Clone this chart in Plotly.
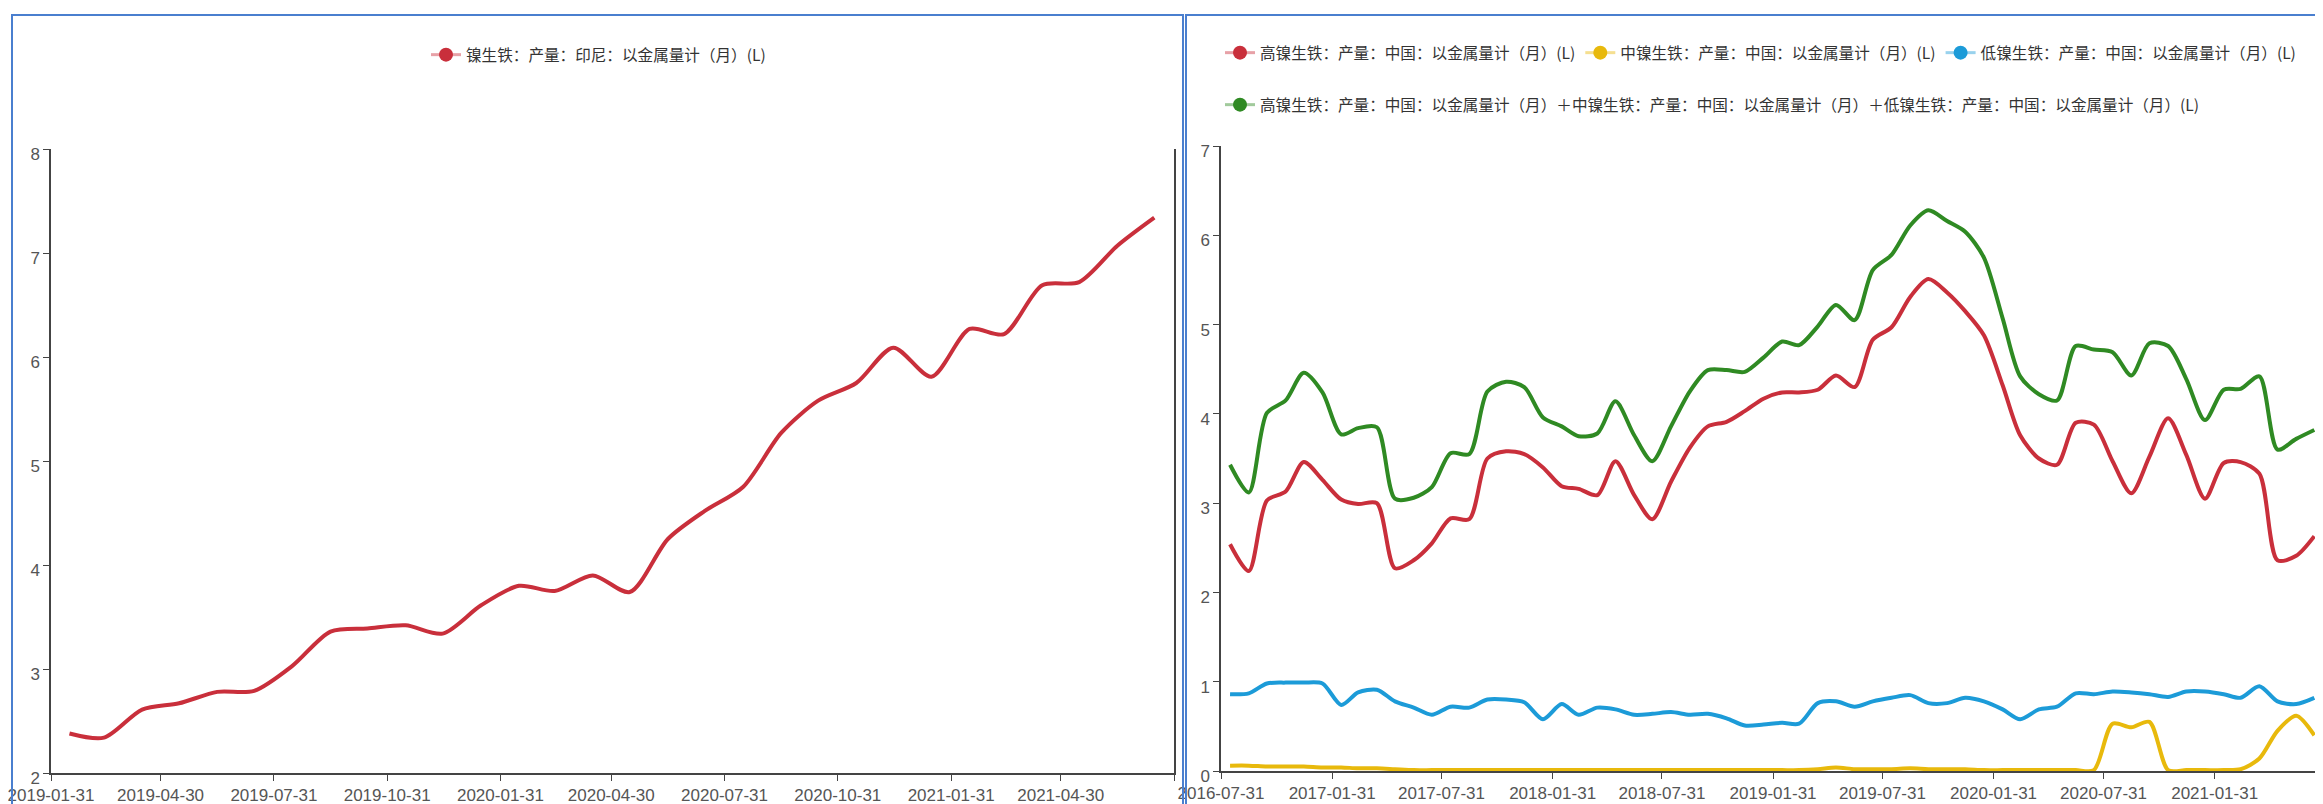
import pandas as pd
import plotly.graph_objects as go

# ---------------- data ----------------
# Left chart: Indonesia NPI output (metal content), monthly, Feb 2019 .. Jul 2021
indo_months = pd.date_range("2019-02-01", periods=30, freq="MS") + pd.Timedelta(days=14)
indo_npi = [2.38, 2.34, 2.61, 2.67, 2.78, 2.79, 3.03, 3.36, 3.39, 3.42,
            3.34, 3.61, 3.80, 3.75, 3.90, 3.74, 4.25, 4.52, 4.75, 5.27,
            5.58, 5.75, 6.09, 5.81, 6.27, 6.22, 6.69, 6.72, 7.07, 7.34]
left_tickvals = ["2019-01-31", "2019-04-30", "2019-07-31", "2019-10-31", "2020-01-31",
                 "2020-04-30", "2020-07-31", "2020-10-31", "2021-01-31", "2021-04-30", "2021-07-31"]
left_ticktext = ["2019-01-31", "2019-04-30", "2019-07-31", "2019-10-31", "2020-01-31",
                 "2020-04-30", "2020-07-31", "2020-10-31", "2021-01-31", "2021-04-30", ""]

# Right chart: China NPI output by grade, monthly, Aug 2016 .. Jul 2021
cn_months = pd.date_range("2016-08-01", periods=60, freq="MS") + pd.Timedelta(days=14)
high_npi = [2.54, 2.24, 3.03, 3.13, 3.46, 3.26, 3.04, 2.99, 3.00, 2.27,
            2.36, 2.55, 2.83, 2.82, 3.50, 3.58, 3.55, 3.40, 3.19, 3.16,
            3.09, 3.47, 3.09, 2.82, 3.24, 3.62, 3.86, 3.91, 4.03, 4.17,
            4.24, 4.24, 4.27, 4.43, 4.30, 4.83, 4.97, 5.31, 5.51, 5.36,
            5.15, 4.88, 4.32, 3.76, 3.50, 3.43, 3.90, 3.88, 3.47, 3.11,
            3.52, 3.95, 3.54, 3.05, 3.45, 3.46, 3.33, 2.36, 2.41, 2.63]
mid_npi = [0.06, 0.06, 0.05, 0.05, 0.05, 0.04, 0.04, 0.03, 0.03, 0.02,
           0.01, 0.01, 0.01, 0.01, 0.01, 0.01, 0.01, 0.01, 0.01, 0.01,
           0.01, 0.01, 0.01, 0.01, 0.01, 0.01, 0.01, 0.01, 0.01, 0.01,
           0.01, 0.01, 0.02, 0.04, 0.02, 0.02, 0.02, 0.03, 0.02, 0.02,
           0.02, 0.01, 0.01, 0.01, 0.01, 0.01, 0.01, 0.01, 0.53, 0.49,
           0.55, 0.01, 0.01, 0.01, 0.01, 0.02, 0.14, 0.45, 0.62, 0.40]
low_npi = [0.86, 0.87, 0.98, 0.99, 0.99, 0.98, 0.74, 0.88, 0.91, 0.78,
           0.71, 0.63, 0.72, 0.71, 0.80, 0.80, 0.77, 0.58, 0.75, 0.63,
           0.71, 0.69, 0.63, 0.64, 0.66, 0.63, 0.64, 0.59, 0.51, 0.52,
           0.54, 0.53, 0.76, 0.78, 0.72, 0.78, 0.82, 0.85, 0.76, 0.76,
           0.82, 0.78, 0.69, 0.58, 0.69, 0.72, 0.87, 0.86, 0.89, 0.88,
           0.86, 0.83, 0.89, 0.89, 0.86, 0.82, 0.95, 0.78, 0.75, 0.82]
total_npi = [3.43, 3.12, 4.01, 4.15, 4.46, 4.24, 3.77, 3.84, 3.85, 3.05,
             3.06, 3.18, 3.56, 3.55, 4.25, 4.36, 4.30, 3.96, 3.86, 3.75,
             3.78, 4.14, 3.76, 3.47, 3.86, 4.25, 4.49, 4.49, 4.47, 4.63,
             4.81, 4.77, 4.98, 5.22, 5.05, 5.61, 5.78, 6.11, 6.28, 6.16,
             6.04, 5.75, 5.07, 4.42, 4.22, 4.15, 4.76, 4.72, 4.69, 4.43,
             4.79, 4.76, 4.39, 3.93, 4.27, 4.28, 4.42, 3.60, 3.72, 3.82]
right_tickvals = ["2016-07-31", "2017-01-31", "2017-07-31", "2018-01-31", "2018-07-31",
                  "2019-01-31", "2019-07-31", "2020-01-31", "2020-07-31", "2021-01-31", "2021-07-31"]
right_ticktext = ["2016-07-31", "2017-01-31", "2017-07-31", "2018-01-31", "2018-07-31",
                  "2019-01-31", "2019-07-31", "2020-01-31", "2020-07-31", "2021-01-31", ""]

name_indo = "镍生铁：产量：印尼：以金属量计（月）(L)"
name_high = "高镍生铁：产量：中国：以金属量计（月）(L)"
name_mid = "中镍生铁：产量：中国：以金属量计（月）(L)"
name_low = "低镍生铁：产量：中国：以金属量计（月）(L)"
name_total = ("高镍生铁：产量：中国：以金属量计（月）＋中镍生铁：产量：中国：以金属量计（月）"
              "＋低镍生铁：产量：中国：以金属量计（月）(L)")

RED = "#c92f3b"
YELLOW = "#e8b90c"
BLUE = "#1c9bd8"
GREEN = "#2f8a23"
FADE = {RED: "rgba(201,47,59,0.45)", YELLOW: "rgba(232,185,12,0.45)",
        BLUE: "rgba(28,155,216,0.45)", GREEN: "rgba(47,138,35,0.45)"}

W, H = 2323, 804
FONT = "Noto Sans CJK SC"
TICK_FONT = "Liberation Sans"

fig = go.Figure()


def add_series(x, y, color, name, xa, ya, legend):
    fig.add_trace(go.Scatter(x=x, y=y, mode="lines", xaxis=xa, yaxis=ya,
                             line=dict(color=color, width=4, shape="spline", smoothing=0.8),
                             showlegend=False, hoverinfo="x+y", name=name))
    # legend entry (line + circle symbol)
    fig.add_trace(go.Scatter(x=[None], y=[None], mode="lines+markers", xaxis=xa, yaxis=ya,
                             line=dict(color=FADE[color], width=3),
                             marker=dict(color=color, size=14),
                             name=name, legend=legend, showlegend=True))


add_series(indo_months, indo_npi, RED, name_indo, "x", "y", "legend")
add_series(cn_months, high_npi, RED, name_high, "x2", "y2", "legend2")
add_series(cn_months, mid_npi, YELLOW, name_mid, "x2", "y2", "legend2")
add_series(cn_months, low_npi, BLUE, name_low, "x2", "y2", "legend2")
add_series(cn_months, total_npi, GREEN, name_total, "x2", "y2", "legend3")

axis_common = dict(showgrid=False, zeroline=False, showline=True, linecolor="#444",
                   linewidth=1.5, ticks="outside", ticklen=6, tickcolor="#444",
                   automargin=False, ticklabeloverflow="allow",
                   tickfont=dict(family=TICK_FONT, size=17, color="#555"))
x_extra = dict(ticklabelstandoff=0)
y_extra = dict(ticklabelshift=5)

left_x = [43 / W, 1166 / W]
right_x = [1213 / W, 2316 / W]
LEG_FONT = dict(family=FONT, size=15.6, color="#333")

fig.update_layout(
    width=W, height=H, margin=dict(l=0, r=0, t=0, b=0, autoexpand=False),
    paper_bgcolor="white", plot_bgcolor="white",
    font=dict(family=FONT, color="#333"),
    xaxis=dict(axis_common, **x_extra, domain=left_x, type="date", anchor="y",
               range=["2019-01-31", "2021-07-31"],
               tickmode="array", tickvals=left_tickvals, ticktext=left_ticktext),
    yaxis=dict(axis_common, **y_extra, domain=[1 - 765 / H, 1 - 141 / H], anchor="x",
               range=[2, 8], dtick=1, tick0=0, mirror=True),
    xaxis2=dict(axis_common, **x_extra, domain=right_x, type="date", anchor="y2",
                range=["2016-07-31", "2021-07-31"],
                tickmode="array", tickvals=right_tickvals, ticktext=right_ticktext),
    yaxis2=dict(axis_common, **y_extra, domain=[1 - 763 / H, 1 - 138 / H], anchor="x2",
                range=[0, 7], dtick=1, tick0=0, mirror=True),
    legend=dict(orientation="h", x=(left_x[0] + left_x[1]) / 2 - 14 / W, xanchor="center",
                y=1 - 47 / H, yanchor="middle", font=LEG_FONT,
                bgcolor="rgba(0,0,0,0)", itemclick=False),
    legend2=dict(orientation="h", x=1212 / W, xanchor="left",
                 y=1 - 45 / H, yanchor="middle", font=LEG_FONT,
                 bgcolor="rgba(0,0,0,0)", itemclick=False),
    legend3=dict(orientation="h", x=1212 / W, xanchor="left",
                 y=1 - 97 / H, yanchor="middle", font=LEG_FONT,
                 bgcolor="rgba(0,0,0,0)", itemclick=False),
    shapes=[
        dict(type="rect", xref="paper", yref="paper", x0=4 / W, x1=1175 / W,
             y0=-0.05, y1=1 - 7 / H, line=dict(color="#4a7fcf", width=2), layer="above"),
        dict(type="rect", xref="paper", yref="paper", x0=1178 / W, x1=2320 / W,
             y0=-0.05, y1=1 - 7 / H, line=dict(color="#4a7fcf", width=2), layer="above"),
    ],
)

fig.write_html("out.html")
